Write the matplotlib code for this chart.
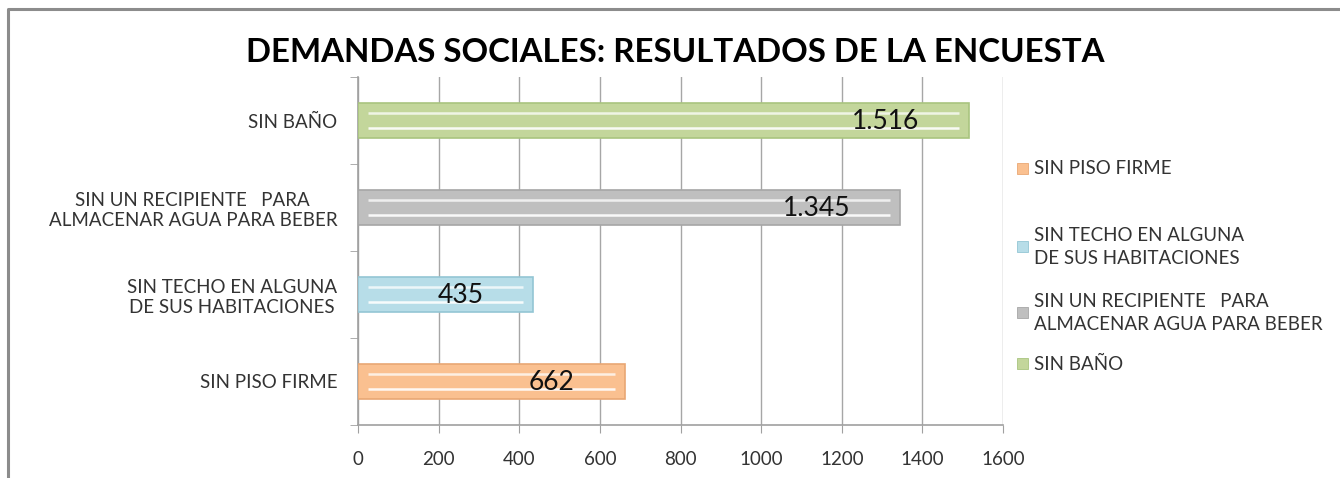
import matplotlib
matplotlib.use("Agg")
import matplotlib.pyplot as plt
from matplotlib.patches import Rectangle
from matplotlib.lines import Line2D
import numpy as np

categories = ["SIN PISO FIRME",
              "SIN TECHO EN ALGUNA\nDE SUS HABITACIONES",
              "SIN UN RECIPIENTE   PARA\nALMACENAR AGUA PARA BEBER",
              "SIN BAÑO"]
values = [662, 435, 1345, 1516]
value_labels = ["662", "435", "1.345", "1.516"]
x_ticks = [0, 200, 400, 600, 800, 1000, 1200, 1400, 1600]
title = "DEMANDAS SOCIALES: RESULTADOS DE LA ENCUESTA"

fills = ["#FAC090", "#B7DDE8", "#BFBFBF", "#C3D69B"]
edges = ["#E9A774", "#93C6D4", "#A6A6A6", "#A9C47F"]

plt.rcParams['font.family'] = ['Lato', 'DejaVu Sans']

W, H = 1340, 478
fig = plt.figure(figsize=(W / 100, H / 100), dpi=100)
fig.patch.set_facecolor("white")

# outer chart frame (only left and top edges visible)
fig.add_artist(Line2D([7.5 / W, 7.5 / W, 1.0], [0.0, 1 - 8.5 / H, 1 - 8.5 / H],
                      transform=fig.transFigure, color="#8C8C8C", linewidth=2.2))

ax = fig.add_axes([358 / W, 1 - 425 / H, (1003 - 358) / W, (425 - 77) / H])
ypos = np.arange(len(categories))
bar_h = 0.41
bars = ax.barh(ypos, values, height=bar_h, color=fills, edgecolor=edges, linewidth=1.2, zorder=3)

# glossy highlight lines inside each bar
for y, v in zip(ypos, values):
    inset = 10 / 645 * 1600
    for dy, a in ((-0.085, 0.9), (0.09, 0.75)):
        ax.plot([inset, v - inset], [y + dy, y + dy], color="white", lw=1.8, alpha=a,
                solid_capstyle="butt", zorder=4)

for y, v, lab in zip(ypos, values, value_labels):
    ax.annotate(lab, xy=(v, y), xytext=(-50, -1), textcoords="offset pixels",
                ha="right", va="center", fontsize=19, color="#111111", zorder=5)

ax.set_xlim(0, 1600)
ax.set_ylim(-0.5, 3.5)
ax.set_xticks(x_ticks)
ax.set_xticklabels([str(t) for t in x_ticks])
ax.set_yticks(ypos)
ax.set_yticklabels(categories, multialignment="center")
ax.set_yticks(np.arange(-0.5, 4.0, 1.0), minor=True)
ax.tick_params(axis="y", which="major", length=0, pad=15, labelsize=13.5, labelcolor="#333333")
ax.tick_params(axis="y", which="minor", length=6, color="#A0A0A0", direction="out")
ax.tick_params(axis="x", length=6, color="#A0A0A0", direction="out", pad=13,
               labelsize=13.5, labelcolor="#333333")
ax.grid(axis="x", color="#A6A6A6", linewidth=1.0, zorder=0)
ax.set_axisbelow(True)
for s in ("top", "right"):
    ax.spines[s].set_visible(False)
for s in ("left", "bottom"):
    ax.spines[s].set_color("#A0A0A0")
    ax.spines[s].set_linewidth(1.2)

fig.text(675 / W, 1 - 52 / H, title, ha="center", va="center", fontsize=23.8,
         fontweight="bold", color="black")

# legend (manual layout to match spacing)
leg_y = [169, 247, 313, 364]
for c, e, lab, yy in zip(fills, edges, categories, leg_y):
    fig.patches.append(Rectangle((1017 / W, 1 - (yy + 5) / H), 11 / W, 11 / H,
                                 transform=fig.transFigure, facecolor=c, edgecolor=e, lw=0.6))
    fig.text(1034 / W, 1 - yy / H, lab, ha="left", va="center", fontsize=13.5,
             color="#333333", linespacing=1.45)

fig.savefig("out.png", dpi=100, facecolor="white")
